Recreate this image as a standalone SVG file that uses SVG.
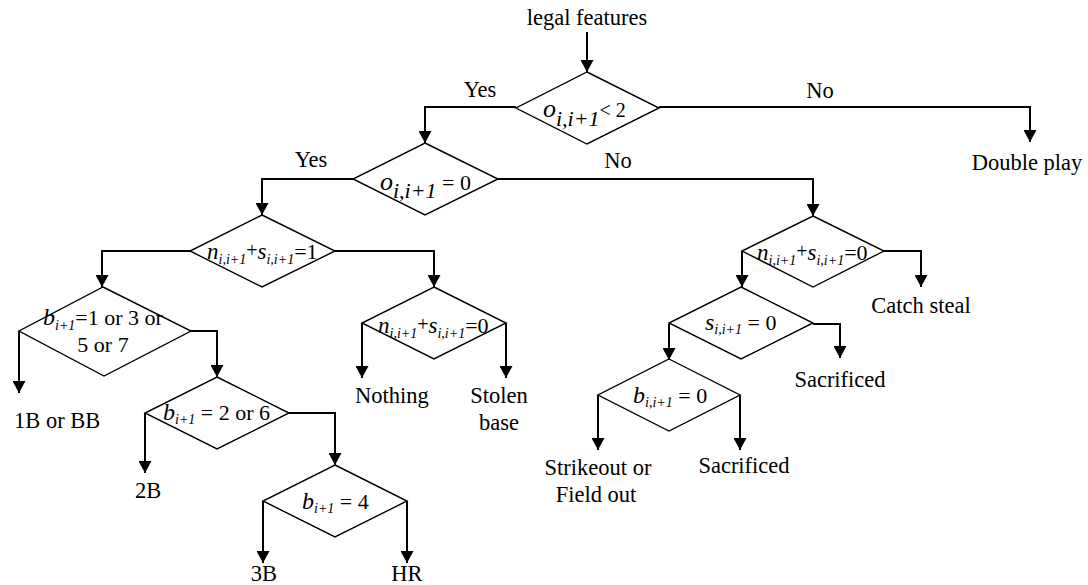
<svg xmlns="http://www.w3.org/2000/svg" width="1088" height="585" viewBox="0 0 1088 585">
<style>
text{font-family:"Liberation Serif","Times New Roman",serif;fill:#000}
.lbl{font-size:22.5px}
.c{text-anchor:middle}
.d{fill:#fff;stroke:#000;stroke-width:1.4}
.e{fill:none;stroke:#000;stroke-width:2}
.v{font-style:italic;font-size:24px}
.o{font-style:italic;font-size:26px}
.s{font-style:italic;font-size:14px}
.sb{font-style:italic;font-size:22px}
.ns{font-style:italic;font-size:14px}
.n{font-style:italic;font-size:23px}
.r{font-size:22px}
</style>
<defs>
<marker id="ah" markerUnits="userSpaceOnUse" markerWidth="13" markerHeight="13" refX="12" refY="6.5" orient="auto">
<path d="M0,0 L12,6.5 L0,13 z" fill="#000"/>
</marker>
</defs>
<g id="connectors">
<path class="e" marker-end="url(#ah)" d="M587,32 V72"/>
<path class="e" marker-end="url(#ah)" d="M516,107 H425 V143"/>
<path class="e" marker-end="url(#ah)" d="M659,107 H1030 V142"/>
<path class="e" marker-end="url(#ah)" d="M353,179 H262 V215"/>
<path class="e" marker-end="url(#ah)" d="M498,179 H813 V216"/>
<path class="e" marker-end="url(#ah)" d="M190,251 H102 V287"/>
<path class="e" marker-end="url(#ah)" d="M335,251 H434 V287"/>
<path class="e" marker-end="url(#ah)" d="M19,331 V393"/>
<path class="e" marker-end="url(#ah)" d="M191,331 H217 V377"/>
<path class="e" marker-end="url(#ah)" d="M145,413 V473"/>
<path class="e" marker-end="url(#ah)" d="M288,413 H335 V465"/>
<path class="e" marker-end="url(#ah)" d="M263,501 V563"/>
<path class="e" marker-end="url(#ah)" d="M407,501 V563"/>
<path class="e" marker-end="url(#ah)" d="M362,323 V378"/>
<path class="e" marker-end="url(#ah)" d="M506,323 V378"/>
<path class="e" marker-end="url(#ah)" d="M884,251 H921 V287"/>
<path class="e" marker-end="url(#ah)" d="M742,251 V287"/>
<path class="e" marker-end="url(#ah)" d="M813,324 H840 V358"/>
<path class="e" marker-end="url(#ah)" d="M669,324 V360"/>
<path class="e" marker-end="url(#ah)" d="M598,395 V450"/>
<path class="e" marker-end="url(#ah)" d="M740,395 V450"/>
<text class="lbl c" x="480" y="97">Yes</text>
<text class="lbl c" x="820" y="98">No</text>
<text class="lbl c" x="311" y="167">Yes</text>
<text class="lbl c" x="618" y="168">No</text>
</g>
<g id="start"><text class="lbl c" x="587" y="25">legal features</text></g>
<g id="d1">
<polygon class="d" points="587,72 659,108 587,144 516,108"/>
<text x="543" y="117"><tspan class="o">o</tspan><tspan class="sb" dy="9">i,i+1</tspan><tspan font-size="20px" dy="-9">&lt; 2</tspan></text>
</g>
<g id="d2">
<polygon class="d" points="425,143 498,179 425,215 353,179"/>
<text x="380" y="190"><tspan class="o">o</tspan><tspan class="sb" dy="8">i,i+1</tspan><tspan class="r" dy="-8"> = 0</tspan></text>
</g>
<g id="d3">
<polygon class="d" points="262,215 335,251 262,287 190,251"/>
<text x="207" y="259"><tspan class="n">n</tspan><tspan class="ns" dy="5">i,i+1</tspan><tspan font-size="20px" dy="-7">+</tspan><tspan class="n" dy="2">s</tspan><tspan class="ns" dy="5">i,i+1</tspan><tspan class="r" dy="-5">=1</tspan></text>
</g>
<g id="d4">
<polygon class="d" points="103,287 191,331 104,376 19,331"/>
<text x="43" y="325"><tspan class="v">b</tspan><tspan class="s" dy="5">i+1</tspan><tspan class="r" dy="-5">=1 or 3 or</tspan></text>
<text class="r c" x="103" y="352">5 or 7</text>
</g>
<g id="d5">
<polygon class="d" points="217,377 289,413 217,449 145,413"/>
<text x="163" y="420"><tspan class="v">b</tspan><tspan class="s" dy="4">i+1</tspan><tspan class="r" dy="-4"> = 2 or 6</tspan></text>
</g>
<g id="d6">
<polygon class="d" points="335,465 407,501 335,537 263,501"/>
<text x="302" y="509"><tspan class="v">b</tspan><tspan class="s" dy="4">i+1</tspan><tspan class="r" dy="-4"> = 4</tspan></text>
</g>
<g id="d7">
<polygon class="d" points="434,287 506,323 434,359 362,323"/>
<text x="378" y="333"><tspan class="n">n</tspan><tspan class="ns" dy="5">i,i+1</tspan><tspan font-size="20px" dy="-7">+</tspan><tspan class="n" dy="2">s</tspan><tspan class="ns" dy="5">i,i+1</tspan><tspan class="r" dy="-5">=0</tspan></text>
</g>
<g id="d8">
<polygon class="d" points="813,216 884,251 813,287 742,251"/>
<text x="757" y="260"><tspan class="n">n</tspan><tspan class="ns" dy="5">i,i+1</tspan><tspan font-size="20px" dy="-7">+</tspan><tspan class="n" dy="2">s</tspan><tspan class="ns" dy="5">i,i+1</tspan><tspan class="r" dy="-5">=0</tspan></text>
</g>
<g id="d9">
<polygon class="d" points="741,287 813,323 741,359 669,323"/>
<text x="705" y="330"><tspan class="v">s</tspan><tspan class="s" dy="4">i,i+1</tspan><tspan class="r" dy="-4"> = 0</tspan></text>
</g>
<g id="d10">
<polygon class="d" points="669,359 740,395 669,431 598,395"/>
<text x="633" y="403"><tspan class="v">b</tspan><tspan class="s" dy="4">i,i+1</tspan><tspan class="r" dy="-4"> = 0</tspan></text>
</g>
<g id="t-double"><text class="lbl c" x="1027" y="170">Double play</text></g>
<g id="t-catch"><text class="lbl c" x="921" y="313">Catch steal</text></g>
<g id="t-sac1"><text class="lbl c" x="840" y="387">Sacrificed</text></g>
<g id="t-nothing"><text class="lbl" x="355" y="403">Nothing</text></g>
<g id="t-stolen"><text class="lbl c" x="499" y="403">Stolen</text><text class="lbl c" x="499" y="430">base</text></g>
<g id="t-1b"><text class="lbl" x="14" y="428">1B or BB</text></g>
<g id="t-2b"><text class="lbl" x="135" y="498">2B</text></g>
<g id="t-3b"><text class="lbl c" x="264" y="581">3B</text></g>
<g id="t-hr"><text class="lbl c" x="407" y="581">HR</text></g>
<g id="t-strike"><text class="lbl c" x="598" y="475">Strikeout or</text><text class="lbl c" x="596" y="502">Field out</text></g>
<g id="t-sac2"><text class="lbl c" x="744" y="473">Sacrificed</text></g>
</svg>
